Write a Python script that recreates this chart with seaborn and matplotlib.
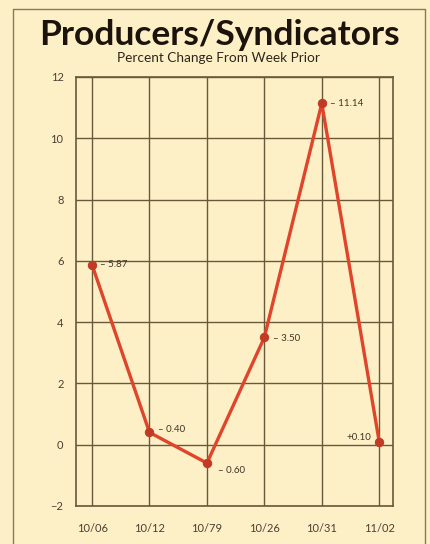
import matplotlib
matplotlib.use("Agg")
import matplotlib.pyplot as plt
from matplotlib.lines import Line2D
import seaborn as sns
import pandas as pd

# Weekly percent change for producers/syndicators
weeks = ["10/06", "10/12", "10/79", "10/26", "10/31", "11/02"]
pct_change = [5.87, 0.40, -0.60, 3.50, 11.14, 0.10]
point_labels = ["\u2013 5.87", "\u2013 0.40", "\u2013 0.60", "\u2013 3.50", "\u2013 11.14", "+0.10"]
y_ticks = [-2, 0, 2, 4, 6, 8, 10, 12]
y_tick_labels = ["\u22122", "0", "2", "4", "6", "8", "10", "12"]

paper = "#fdf0c6"
ink = "#6a583a"
line_red = "#e0442a"
dot_red = "#c23a25"

sns.set_theme(style="white")
plt.rcParams["font.family"] = ["Lato", "DejaVu Sans"]

fig = plt.figure(figsize=(4.31, 5.44), dpi=100, facecolor=paper)
ax = fig.add_axes([0.1763, 0.0699, 0.7355, 0.7886])
ax.set_facecolor(paper)

df = pd.DataFrame({"week": weeks, "pct": pct_change})
sns.lineplot(data=df, x="week", y="pct", sort=False, ax=ax,
             color=line_red, linewidth=2.4, marker="o", markersize=6,
             markerfacecolor=dot_red, markeredgecolor=dot_red, zorder=5)

ax.set_xlim(-0.28, 5.24)
ax.set_ylim(-2, 12)
ax.set_yticks(y_ticks)
ax.set_yticklabels(y_tick_labels)
ax.set_xticks(range(len(weeks)))
ax.set_xticklabels(weeks)
ax.set_xlabel("")
ax.set_ylabel("")

ax.grid(True, color=ink, linewidth=1.0)
for s in ax.spines.values():
    s.set_visible(True)
    s.set_color(ink)
    s.set_linewidth(1.2)
ax.tick_params(axis="both", length=0, colors="#4a4030", labelsize=8)
ax.tick_params(axis="y", pad=9)
ax.tick_params(axis="x", pad=12)

# value annotations next to each point
offsets = [(6, 0), (6, 2), (8, -5), (6, -1), (6, 0), (-6, 3)]
aligns = ["left", "left", "left", "left", "left", "right"]
for i, (v, lab) in enumerate(zip(pct_change, point_labels)):
    ax.annotate(lab, (i, v), xytext=offsets[i], textcoords="offset points",
                ha=aligns[i], va="center", fontsize=7, color="#3e3526")

# titles
fig.text(0.508, 0.935, "Producers/Syndicators", ha="center", va="center",
         fontsize=25.5, fontweight="bold", color="#1c140c")
fig.text(0.506, 0.893, "Percent Change From Week Prior", ha="center",
         va="center", fontsize=9.8, color="#2e261a")

# outer panel rules
W, H = 431, 544
for xs, ys in [([13 / W, 13 / W], [0, 1 - 9 / H]),
               ([425 / W, 425 / W], [0, 1 - 9 / H]),
               ([13 / W, 425 / W], [1 - 9 / H, 1 - 9 / H])]:
    fig.add_artist(Line2D(xs, ys, color="#8a7a58", linewidth=1.0,
                          transform=fig.transFigure))

fig.savefig("out.png", dpi=100, facecolor=paper)
